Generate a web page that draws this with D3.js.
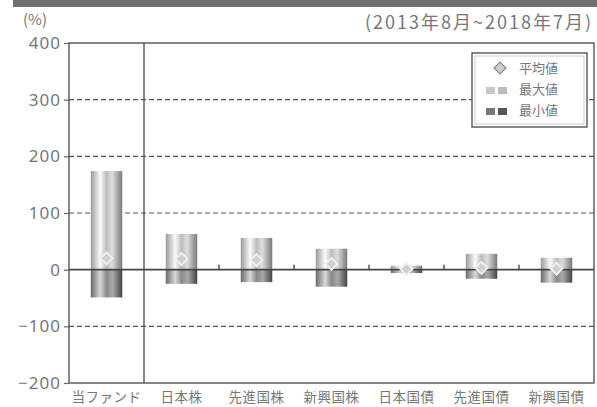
<!DOCTYPE html>
<html>
<head>
<meta charset="utf-8">
<script src="https://cdn.jsdelivr.net/npm/d3@7"></script>
<style>
  body { margin: 0; background: #fff; }
  text { font-family: "Noto Sans CJK JP", "Noto Sans", sans-serif; fill: #777; }
</style>
</head>
<body>
<svg id="chart" width="597" height="407"></svg>
<script>
var categories = ['当ファンド', '日本株', '先進国株', '新興国株', '日本国債', '先進国債', '新興国債'];
var maxValues = [174, 63, 56, 37, 7, 28, 21];
var minValues = [-49, -25, -22, -30, -6, -16, -23];
var meanValues = [20, 19, 17, 10, 1, 3, 2];
var yTicks = [-200, -100, 0, 100, 200, 300, 400];
var gridValues = [-100, 100, 200, 300];
var legendLabels = ['平均値', '最大値', '最小値'];

var W = 597, H = 407;
var m = {left: 69, right: 3, top: 43, bottom: 24};
var svg = d3.select('#chart');

// header band
svg.append('rect').attr('x', 13).attr('y', 0).attr('width', W - 13).attr('height', 7).attr('fill', '#707070');

var defs = svg.append('defs');
var addGrad = function (id, stops) {
  var g = defs.append('linearGradient').attr('id', id).attr('x1', 0).attr('x2', 1).attr('y1', 0).attr('y2', 0);
  stops.forEach(function (s) {
    g.append('stop').attr('offset', s[0]).attr('stop-color', s[1]);
  });
};
addGrad('gUp', [[0, '#9a9a9a'], [0.3, '#fbfbfb'], [0.5, '#bdbdbd'], [0.68, '#dedede'], [1, '#7a7a7a']]);
addGrad('gDown', [[0, '#6a6a6a'], [0.3, '#d8d8d8'], [0.5, '#8a8a8a'], [0.7, '#a8a8a8'], [1, '#444']]);

var x = d3.scaleBand().domain(categories).range([m.left, W - m.right]).paddingInner(0.58).paddingOuter(0.29);
var y = d3.scaleLinear().domain([-200, 400]).range([H - m.bottom, m.top]);

// gridlines
svg.append('g').selectAll('line').data(gridValues).enter().append('line')
    .attr('x1', m.left).attr('x2', W - m.right)
    .attr('y1', function (d) { return y(d); })
    .attr('y2', function (d) { return y(d); })
    .attr('stroke', '#555').attr('stroke-width', 1.2).attr('stroke-dasharray', '5,3');

// y axis
var yAxis = svg.append('g').attr('transform', 'translate(' + m.left + ',0)')
    .call(d3.axisLeft(y).tickValues(yTicks).tickSize(5).tickPadding(3).tickFormat(function (d) {
      return d < 0 ? '\u2212' + Math.abs(d) : d;
    }));
yAxis.select('.domain').remove();
yAxis.selectAll('line').attr('stroke', '#666').attr('stroke-width', 1.2);
yAxis.selectAll('text').style('font-size', '17px').style('letter-spacing', '1px')
    .style('font-family', '"Noto Sans", sans-serif').attr('fill', '#777');

// bars
var step = x.step();
var bars = svg.append('g');
categories.forEach(function (c, i) {
  bars.append('rect').attr('x', x(c)).attr('width', x.bandwidth())
      .attr('y', y(maxValues[i])).attr('height', y(0) - y(maxValues[i]))
      .attr('fill', 'url(#gUp)');
  bars.append('rect').attr('x', x(c)).attr('width', x.bandwidth())
      .attr('y', y(0)).attr('height', y(minValues[i]) - y(0))
      .attr('fill', 'url(#gDown)');
});

// zero line
svg.append('line').attr('x1', m.left).attr('x2', W - m.right)
    .attr('y1', y(0)).attr('y2', y(0)).attr('stroke', '#444').attr('stroke-width', 1.6);

// small ticks between categories
svg.append('g').selectAll('line').data(categories.slice(2)).enter().append('line')
    .attr('x1', function (d) { return x(d) - (step - x.bandwidth()) / 2; })
    .attr('x2', function (d) { return x(d) - (step - x.bandwidth()) / 2; })
    .attr('y1', y(0)).attr('y2', y(0) - 5)
    .attr('stroke', '#444').attr('stroke-width', 1.4);

// mean diamonds
var diamond = d3.symbol().type(d3.symbolDiamond2).size(90);
svg.append('g').selectAll('path').data(categories).enter().append('path')
    .attr('d', diamond)
    .attr('transform', function (d, i) {
      return 'translate(' + (x(d) + x.bandwidth() / 2) + ',' + y(meanValues[i]) + ')';
    })
    .attr('fill', '#cfcfcf').attr('stroke', '#eee').attr('stroke-width', 2);

// frame and separator
svg.append('rect').attr('x', m.left).attr('y', m.top)
    .attr('width', W - m.left - m.right).attr('height', H - m.top - m.bottom)
    .attr('fill', 'none').attr('stroke', '#555').attr('stroke-width', 1.4);
var sepX = x(categories[1]) - (step - x.bandwidth()) / 2;
svg.append('line').attr('x1', sepX).attr('x2', sepX).attr('y1', m.top).attr('y2', H - m.bottom)
    .attr('stroke', '#555').attr('stroke-width', 1.4);

// category labels
svg.append('g').selectAll('text').data(categories).enter().append('text')
    .attr('x', function (d) { return x(d) + x.bandwidth() / 2; })
    .attr('y', H - 5)
    .attr('text-anchor', 'middle')
    .style('font-size', '13.5px').style('letter-spacing', '0.5px')
    .text(function (d) { return d; });

// unit and period
svg.append('text').attr('x', 23).attr('y', 25).style('font-size', '15px').text('(%)');
svg.append('text').attr('x', W - 4).attr('y', 29).attr('text-anchor', 'end')
    .style('font-size', '18px').style('letter-spacing', '2px').text('(2013年8月~2018年7月)');

// legend
var lg = svg.append('g').attr('transform', 'translate(472,53)');
lg.append('rect').attr('width', 115).attr('height', 74).attr('fill', '#fff')
    .attr('stroke', '#555').attr('stroke-width', 1.4);
lg.append('rect').attr('x', 3).attr('y', 3).attr('width', 109).attr('height', 68).attr('fill', 'none')
    .attr('stroke', '#ccc').attr('stroke-width', 1);
lg.append('path').attr('d', diamond).attr('transform', 'translate(28,15)')
    .attr('fill', '#cfcfcf').attr('stroke', '#888').attr('stroke-width', 1.2);
[['#bbb', '#c8c8c8'], ['#555', '#777']].forEach(function (cols, i) {
  lg.append('rect').attr('x', 14).attr('y', 34 + i * 21).attr('width', 9).attr('height', 7).attr('fill', cols[1]);
  lg.append('rect').attr('x', 26).attr('y', 34 + i * 21).attr('width', 9).attr('height', 7).attr('fill', cols[0]);
});
lg.selectAll('text.lbl').data(legendLabels).enter().append('text')
    .attr('x', 47).attr('y', function (d, i) { return 20 + i * 21; })
    .style('font-size', '13px').attr('fill', '#555')
    .text(function (d) { return d; });
</script>
</body>
</html>
